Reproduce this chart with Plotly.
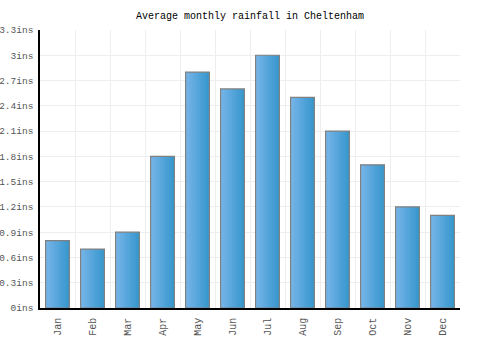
import plotly.graph_objects as go

months = ["Jan", "Feb", "Mar", "Apr", "May", "Jun", "Jul", "Aug", "Sep", "Oct", "Nov", "Dec"]
rainfall = [0.8, 0.7, 0.9, 1.8, 2.8, 2.6, 3.0, 2.5, 2.1, 1.7, 1.2, 1.1]
y_ticks = [0, 0.3, 0.6, 0.9, 1.2, 1.5, 1.8, 2.1, 2.4, 2.7, 3.0, 3.3]
y_labels = ["0ins", "0.3ins", "0.6ins", "0.9ins", "1.2ins", "1.5ins", "1.8ins",
            "2.1ins", "2.4ins", "2.7ins", "3ins", "3.3ins"]

FONT = "Liberation Mono, DejaVu Sans Mono, monospace"
bar_w = 0.68
n_slices = 14
c0 = (118, 180, 232)
c1 = (56, 152, 206)

fig = go.Figure()
for i in range(n_slices):
    t = i / (n_slices - 1)
    col = "rgb(%d,%d,%d)" % tuple(round(a + (b - a) * t) for a, b in zip(c0, c1))
    sw = bar_w / n_slices
    fig.add_trace(go.Bar(
        x=months, y=rainfall, width=[sw * 1.05] * len(months),
        offset=-bar_w / 2 + i * sw,
        marker=dict(color=col, line=dict(width=0)),
        hoverinfo="skip", showlegend=False,
    ))
fig.add_trace(go.Bar(
    x=months, y=rainfall, width=[bar_w] * len(months), offset=-bar_w / 2,
    marker=dict(color="rgba(0,0,0,0)", line=dict(color="#808080", width=1.2)),
    showlegend=False,
))

fig.update_layout(
    width=500, height=350,
    margin=dict(l=40, r=40, t=30, b=42),
    barmode="overlay",
    paper_bgcolor="white", plot_bgcolor="white",
    title=dict(text="Average monthly rainfall in Cheltenham", x=0.5, xanchor="center",
               y=1 - 15 / 350, yanchor="middle",
               font=dict(family=FONT, size=10, color="black")),
    font=dict(family=FONT, size=10, color="#555555"),
)
fig.update_xaxes(
    type="category", tickson="boundaries", showgrid=True, gridcolor="#eeeeee", gridwidth=1,
    showline=True, linecolor="black", linewidth=1.5, ticks="", tickangle=-90,
    tickfont=dict(family=FONT, size=10, color="#555555"), range=[-0.5, 11.5],
    automargin=False, ticklabelstandoff=4,
)
fig.update_yaxes(
    range=[0, 3.3], tickvals=y_ticks, ticktext=y_labels, showgrid=True,
    gridcolor="#eeeeee", gridwidth=1, showline=True, linecolor="black", linewidth=1.5,
    ticks="", zeroline=False, tickfont=dict(family=FONT, size=9.5, color="#555555"),
    automargin=False, ticklabelstandoff=3,
)

fig.write_html("out.html")
